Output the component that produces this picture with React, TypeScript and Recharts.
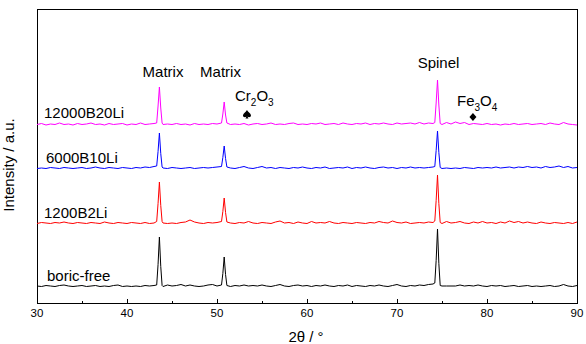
import React from "react";
import { LineChart, Line, XAxis, YAxis, ReferenceArea, ReferenceDot } from "recharts";

// 2θ positions (degrees)
const twoTheta = [
  30, 30.5, 31, 31.5, 32, 32.5, 33, 33.5, 34, 34.5,
  35, 35.5, 36, 36.5, 37, 37.5, 38, 38.5, 39, 39.5,
  40, 40.5, 41, 41.5, 42, 42.5, 43,
  43.3, 43.45, 43.6, 43.75, 43.9,
  44, 44.5, 45, 45.5, 46, 46.5, 47, 47.5, 48, 48.5, 49, 49.5, 50, 50.5,
  50.65, 50.8, 50.95, 51.1,
  51.5, 52, 52.5, 53, 53.5, 54, 54.5, 55, 55.5, 56,
  56.5, 57, 57.5, 58, 58.5, 59, 59.5, 60, 60.5, 61,
  61.5, 62, 62.5, 63, 63.5, 64, 64.5, 65, 65.5, 66,
  66.5, 67, 67.5, 68, 68.5, 69, 69.5, 70, 70.5, 71,
  71.5, 72, 72.5, 73, 73.5, 74,
  74.2, 74.35, 74.5, 74.65, 74.8,
  75, 75.5, 76, 76.5, 77, 77.5, 78, 78.5, 79, 79.5,
  80, 80.5, 81, 81.5, 82, 82.5, 83, 83.5, 84, 84.5,
  85, 85.5, 86, 86.5, 87, 87.5, 88, 88.5, 89, 89.5,
  90,
];

// relative intensities (a.u.)
const b20li = [
  1.5, 2.5, 1.0, 2.0, 1.5, 3.0, 1.5, 2.0, 1.0, 2.5,
  1.5, 2.0, 3.0, 1.5, 2.0, 1.0, 2.5, 1.5, 2.0, 2.5,
  1.0, 2.0, 1.5, 3.0, 1.5, 2.0, 2.5,
  3.0, 20, 39, 18, 3.0,
  1.5, 2.0, 1.5, 2.5, 1.5, 2.0, 1.0, 2.5, 1.5, 2.0, 1.5, 2.5, 2.0, 3.0,
  12, 24, 11, 3.0,
  1.5, 2.0, 1.5, 2.5, 1.0, 2.0, 2.5, 1.5, 2.0, 3.0,
  1.5, 2.0, 1.5, 2.5, 3.0, 1.5, 2.0, 1.5, 2.5, 2.0,
  3.0, 1.5, 2.0, 2.5, 1.5, 3.0, 2.0, 1.5, 2.5, 2.0,
  3.0, 1.5, 2.5, 2.0, 3.0, 2.0, 1.5, 3.0, 2.0, 2.5,
  3.0, 2.0, 3.5, 2.0, 3.0, 2.5,
  3.5, 23, 46, 21, 2.5,
  1.5, 3.5, 2.0, 4.0, 2.5, 3.5, 1.5, 2.5, 2.0, 1.5,
  2.5, 1.5, 2.0, 1.0, 2.0, 1.5, 2.5, 1.5, 2.0, 2.5,
  1.5, 2.0, 2.5, 1.5, 3.0, 2.0, 1.5, 3.5, 2.0, 1.5,
  1.0,
];

const b10li = [
  1.0, 1.5, 1.0, 2.0, 1.5, 1.0, 2.0, 1.5, 1.0, 1.5,
  2.0, 1.0, 1.5, 2.5, 1.5, 1.0, 2.0, 1.5, 1.0, 2.0,
  1.5, 1.0, 2.0, 1.5, 2.5, 2.0, 3.0,
  3.5, 18, 36.5, 16, 2.5,
  1.5, 1.0, 2.0, 1.5, 1.0, 1.5, 2.0, 1.0, 1.5, 2.0, 1.5, 2.0, 2.5, 3.0,
  12, 23.5, 11, 2.5,
  1.5, 1.0, 2.0, 3.0, 1.5, 1.0, 2.0, 3.0, 1.5, 2.0,
  1.0, 2.0, 1.5, 1.0, 2.0, 1.5, 2.5, 1.5, 1.0, 2.0,
  1.5, 2.5, 1.0, 1.5, 2.0, 1.5, 2.5, 1.0, 2.0, 1.5,
  2.5, 1.5, 1.0, 2.0, 2.5, 1.5, 2.0, 1.0, 2.0, 1.5,
  2.5, 1.5, 2.0, 1.5, 2.0, 2.5,
  3.0, 19, 38.5, 17, 2.0,
  1.0, 1.5, 1.0, 1.5, 1.0, 2.0, 1.5, 1.0, 2.0, 1.5,
  2.0, 1.5, 2.5, 1.5, 2.0, 2.5, 1.5, 2.5, 2.0, 3.0,
  2.0, 2.5, 1.5, 3.0, 2.0, 2.5, 3.5, 2.0, 3.0, 1.5,
  2.0,
];

const b2li = [
  1.0, 2.0, 1.5, 1.0, 2.0, 1.5, 2.5, 1.5, 1.0, 2.0,
  1.5, 1.0, 2.0, 1.5, 1.0, 2.5, 1.5, 1.0, 2.0, 1.5,
  1.0, 2.0, 1.5, 1.0, 2.0, 1.0, 1.5,
  3.0, 21, 42.5, 19, 3.0,
  1.5, 1.0, 1.5, 1.0, 2.0, 2.5, 4.5, 2.5, 1.5, 1.0, 2.0, 1.5, 2.0, 3.0,
  13, 26.5, 12, 2.5,
  1.5, 1.0, 2.0, 1.5, 3.0, 1.5, 1.0, 2.0, 1.5, 1.0,
  2.5, 3.5, 1.5, 2.0, 1.0, 2.5, 1.5, 1.0, 3.0, 1.5,
  2.0, 1.5, 3.0, 1.5, 1.0, 2.0, 1.5, 1.0, 2.0, 1.5,
  1.0, 2.0, 1.5, 3.0, 2.0, 1.5, 3.5, 2.0, 1.5, 2.5,
  1.0, 1.5, 2.0, 1.5, 2.5, 2.0,
  3.5, 24, 49.5, 21, 2.0,
  1.0, 3.0, 1.5, 2.0, 3.0, 1.5, 1.0, 2.5, 1.5, 3.0,
  1.5, 2.0, 1.0, 2.5, 1.5, 3.5, 2.0, 3.0, 1.5, 2.5,
  1.5, 1.0, 2.5, 1.5, 1.0, 2.0, 1.5, 1.0, 2.0, 1.0,
  2.5,
];

const boricFree = [
  1.5, 1.0, 2.0, 1.5, 1.0, 2.0, 2.5, 1.5, 1.0, 1.5,
  2.0, 1.0, 1.5, 2.0, 1.0, 1.5, 1.0, 2.0, 2.5, 1.0,
  1.5, 1.0, 1.5, 1.0, 2.0, 1.5, 2.0,
  2.5, 23, 50.5, 21, 2.0,
  1.0, 2.5, 1.5, 2.0, 3.0, 1.5, 2.5, 1.5, 1.0, 1.5, 2.5, 3.0, 1.5, 2.5,
  14, 30.5, 13, 2.0,
  1.0, 2.0, 1.5, 2.5, 1.5, 2.0, 1.5, 2.5, 1.5, 1.0,
  2.0, 3.0, 1.5, 1.0, 2.0, 2.5, 1.5, 2.0, 1.0, 2.0,
  1.5, 2.5, 1.5, 1.0, 2.0, 1.5, 2.5, 1.0, 2.0, 1.5,
  1.0, 2.0, 1.5, 2.5, 1.5, 1.0, 2.0, 3.0, 1.5, 1.0,
  2.0, 1.5, 2.5, 2.0, 3.0, 3.5,
  4.5, 27, 58.5, 24, 2.0,
  1.5, 1.5, 1.5, 1.5, 2.5, 1.5, 2.0, 1.5, 2.5, 1.5,
  1.0, 2.0, 1.5, 2.0, 1.0, 1.5, 2.0, 1.0, 1.5, 2.0,
  1.0, 1.5, 1.0, 1.5, 2.0, 1.0, 1.5, 3.0, 1.5, 1.0,
  2.0,
];

const seriesNames = ["12000B20Li", "6000B10Li", "1200B2Li", "boric-free"];
const seriesColors = ["#FF00FF", "#0000FF", "#FF0000", "#000000"];
const seriesOffsets = [177, 133.5, 78.5, 15.5];
const seriesValues = [b20li, b10li, b2li, boricFree];
const seriesKeys = ["s0", "s1", "s2", "s3"];

// label anchor positions (2θ, stacked intensity)
const sampleLabelX = [30.78, 31.0, 30.78, 31.11];
const sampleLabelY = [185, 140, 85, 22];

const phaseLabels = [
  { text: "Matrix", x: 44.0, y: 226 },
  { text: "Matrix", x: 50.39, y: 226 },
  { text: "Spinel", x: 74.61, y: 235 },
];
const cr2o3 = { x: 52.0, y: 202, markX: 53.33, markY: 189 };
const fe3o4 = { x: 76.67, y: 197, markX: 78.44, markY: 186 };

const xTicks = [30, 35, 40, 45, 50, 55, 60, 65, 70, 75, 80, 85, 90];

const data = twoTheta.map((t, i) => {
  const row: Record<string, number> = { t };
  seriesValues.forEach((arr, k) => {
    row[seriesKeys[k]] = arr[i] + seriesOffsets[k];
  });
  return row;
});

const FONT = "'Liberation Sans', Arial, sans-serif";

const XTick = (props: any) => {
  const { x, y, payload } = props;
  const v = payload.value;
  const major = v % 10 === 0;
  return (
    <g>
      <line x1={x} x2={x} y1={y} y2={y - (major ? 4 : 2)} stroke="#000" strokeWidth={1} shapeRendering="crispEdges" />
      {major && (
        <text x={x} y={y + 14} textAnchor="middle" fontSize={11.5} fontFamily={FONT} fill="#000">
          {v}
        </text>
      )}
    </g>
  );
};

const XTitle = (props: any) => {
  const vb = props.viewBox || {};
  return (
    <text x={vb.x + vb.width / 2 - 1} y={vb.y + 39} textAnchor="middle" fontSize={15} fontFamily={FONT} fill="#000">
      2θ / °
    </text>
  );
};

const YTitle = (props: any) => {
  const vb = props.viewBox || {};
  const cx = 13.5;
  const cy = vb.y + vb.height / 2 + 9;
  return (
    <text x={cx} y={cy} transform={`rotate(-90 ${cx} ${cy})`} textAnchor="middle" fontSize={15} fontFamily={FONT} fill="#000">
      Intensity / a.u.
    </text>
  );
};

const textShape = (text: string, anchor: "start" | "middle") => (p: any) => (
  <text x={p.cx} y={p.cy} textAnchor={anchor} fontSize={15} fontFamily={FONT} fill="#000">
    {text}
  </text>
);

const formulaShape = (a: string, s1: string, b: string, s2: string) => (p: any) => (
  <text x={p.cx} y={p.cy} fontSize={15} fontFamily={FONT} fill="#000">
    <tspan>{a}</tspan>
    <tspan fontSize={10} dy={5}>{s1}</tspan>
    <tspan dy={-5}>{b}</tspan>
    <tspan fontSize={10} dy={5}>{s2}</tspan>
  </text>
);

const spadeShape = (p: any) => {
  const x = p.cx;
  const y = p.cy;
  const d = `M ${x} ${y - 4} C ${x + 1} ${y - 2} ${x + 4} ${y - 0.5} ${x + 4} ${y + 1.5} C ${x + 4} ${y + 3.5} ${x + 1.5} ${y + 3.5} ${x + 0.5} ${y + 2.5} L ${x + 1.5} ${y + 4.5} L ${x - 1.5} ${y + 4.5} L ${x - 0.5} ${y + 2.5} C ${x - 1.5} ${y + 3.5} ${x - 4} ${y + 3.5} ${x - 4} ${y + 1.5} C ${x - 4} ${y - 0.5} ${x - 1} ${y - 2} ${x} ${y - 4} Z`;
  return <path d={d} fill="#000" />;
};

const diamondShape = (p: any) => {
  const x = p.cx;
  const y = p.cy;
  return <path d={`M ${x} ${y - 4} L ${x + 3.5} ${y} L ${x} ${y + 4} L ${x - 3.5} ${y} Z`} fill="#000" />;
};

export default function App() {
  return (
    <div style={{ position: "absolute", left: 0, top: 0 }}>
      <LineChart width={586} height={344} data={data} margin={{ top: 9, right: 9, bottom: 0, left: 0 }}>
        <XAxis
          type="number"
          dataKey="t"
          domain={[30, 90]}
          ticks={xTicks}
          interval={0}
          tick={<XTick />}
          tickLine={false}
          axisLine={false}
          tickSize={0}
          tickMargin={0}
          height={41}
          label={<XTitle />}
        />
        <YAxis
          type="number"
          domain={[0, 294]}
          width={37}
          tick={false}
          tickLine={false}
          axisLine={false}
          label={<YTitle />}
        />
        {seriesKeys.map((k, i) => (
          <Line
            key={k}
            dataKey={k}
            name={seriesNames[i]}
            type="linear"
            stroke={seriesColors[i]}
            strokeWidth={1}
            dot={false}
            isAnimationActive={false}
          />
        ))}
        <ReferenceArea x1={30} x2={90} y1={0} y2={294} fill="none" stroke="#000" strokeWidth={1} fillOpacity={0} shapeRendering="crispEdges" />
        {seriesNames.map((n, i) => (
          <ReferenceDot key={n} x={sampleLabelX[i]} y={sampleLabelY[i]} r={0} shape={textShape(n, "start")} />
        ))}
        {phaseLabels.map((l, i) => (
          <ReferenceDot key={"p" + i} x={l.x} y={l.y} r={0} shape={textShape(l.text, "middle")} />
        ))}
        <ReferenceDot x={cr2o3.x} y={cr2o3.y} r={0} shape={formulaShape("Cr", "2", "O", "3")} />
        <ReferenceDot x={cr2o3.markX} y={cr2o3.markY} r={0} shape={spadeShape} />
        <ReferenceDot x={fe3o4.x} y={fe3o4.y} r={0} shape={formulaShape("Fe", "3", "O", "4")} />
        <ReferenceDot x={fe3o4.markX} y={fe3o4.markY} r={0} shape={diamondShape} />
      </LineChart>
    </div>
  );
}
